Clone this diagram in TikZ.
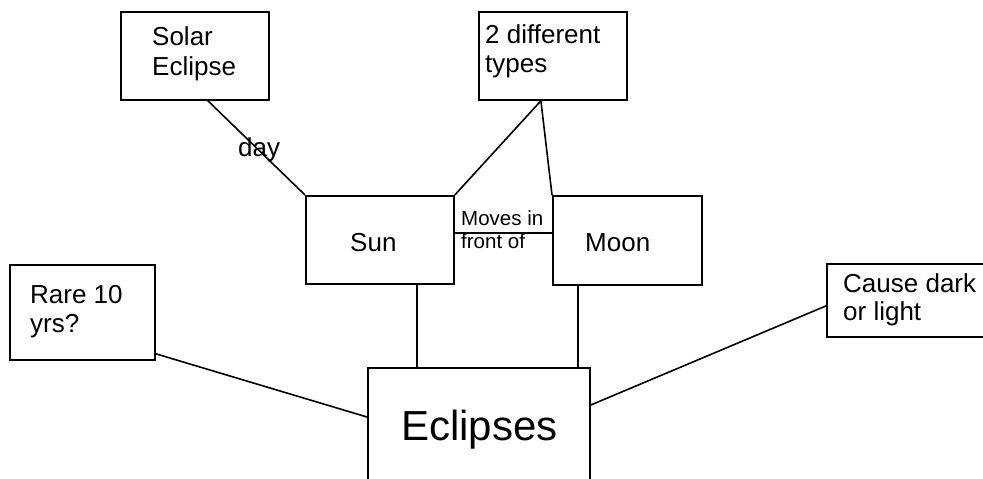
\documentclass[tikz,border=0pt]{standalone}
\usepackage{fontspec}
\setmainfont{Liberation Sans}
\usetikzlibrary{calc}
\begin{document}
\begin{tikzpicture}[x=1pt,y=-1pt,
  box/.style={draw,line width=1.8pt,inner sep=0pt,anchor=north west},
  conn/.style={line width=1.6pt},
  txt/.style={anchor=base west,inner sep=0pt,font=\fontsize{26}{30}\selectfont},
  small/.style={anchor=base west,inner sep=0pt,font=\fontsize{20.5}{23}\selectfont}]
\fill[white] (0,0) rectangle (983,479);
\useasboundingbox (0,0) rectangle (983,479);
\clip (0,0) rectangle (983,479);
% boxes
\node[box,minimum width=148pt,minimum height=88pt] (solar) at (120,11) {};
\node[box,minimum width=148pt,minimum height=88pt] (types) at (478,11) {};
\node[box,minimum width=148pt,minimum height=88pt] (sun) at (305,195) {};
\node[box,minimum width=149pt,minimum height=89pt] (moon) at (552,195) {};
\node[box,minimum width=145pt,minimum height=95pt] (rare) at (9,264) {};
\node[box,minimum width=170pt,minimum height=73pt] (cause) at (826,263) {};
\node[box,minimum width=222pt,minimum height=130pt] (ecl) at (367,367) {};
% texts
\node[txt] (t1) at (152,45) {Solar};
\node[txt] (t2) at (152,75) {Eclipse};
\node[txt] (t3) at (485,43) {2 different};
\node[txt] (t4) at (485,72) {types};
\node[txt] (t5) at (350,251) {Sun};
\node[txt] (t6) at (585,251) {Moon};
\node[txt] (t7) at (30,303) {Rare 10};
\node[txt] (t8) at (30,332) {yrs?};
\node[txt] (t9) at (843,292) {Cause dark};
\node[txt] (t10) at (843,320) {or light};
\node[anchor=base west,inner sep=0pt,font=\fontsize{42}{48}\selectfont] (t11) at (401,440) {Eclipses};
\node[small] (t12) at (461,225) {Moves in};
\node[small] (t13) at (461,248) {front of};
% connectors
\draw[conn] ([xshift=13pt]solar.south) -- (sun.north west);
\node[txt] (day) at (238,156) {day};
\draw[conn] ([xshift=-12pt]types.south) -- (sun.north east);
\draw[conn] ([xshift=-12pt]types.south) -- (moon.north west);
\draw[conn] ([yshift=7pt]sun.east) -- ([yshift=7pt]sun.east -| moon.west);
\draw[conn] ([xshift=37pt]sun.south) -- ([xshift=37pt]sun.south |- ecl.north);
\draw[conn] ([xshift=-49.5pt]moon.south) -- ([xshift=-49.5pt]moon.south |- ecl.north);
\draw[conn] ([yshift=7pt]rare.south east) -- ([yshift=-50pt]ecl.north west);
\draw[conn] ([yshift=-38pt]ecl.north east) -- ([yshift=-5.5pt]cause.west);
\end{tikzpicture}
\end{document}
